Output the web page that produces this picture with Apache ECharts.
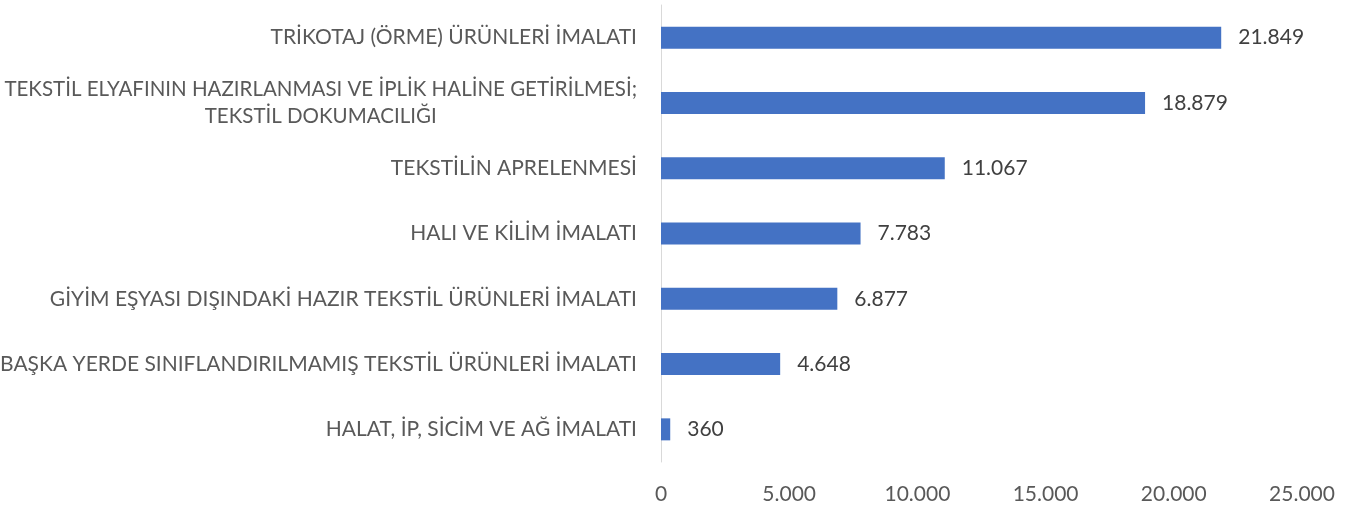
<!DOCTYPE html>
<html>
<head>
<meta charset="utf-8">
<script src="https://cdn.jsdelivr.net/npm/echarts@6/dist/echarts.min.js"></script>
<style>html,body{margin:0;padding:0;background:#fff}#c{width:1362px;height:506px}</style>
</head>
<body>
<div id="c"></div>
<script>
const categories = [
  "TRİKOTAJ (ÖRME) ÜRÜNLERİ İMALATI",
  "TEKSTİL ELYAFININ HAZIRLANMASI VE İPLİK HALİNE GETİRİLMESİ;\nTEKSTİL DOKUMACILIĞI",
  "TEKSTİLİN APRELENMESİ",
  "HALI VE KİLİM İMALATI",
  "GİYİM EŞYASI DIŞINDAKİ HAZIR TEKSTİL ÜRÜNLERİ İMALATI",
  "BAŞKA YERDE SINIFLANDIRILMAMIŞ TEKSTİL ÜRÜNLERİ İMALATI",
  "HALAT, İP, SİCİM VE AĞ İMALATI"
];
const values = [21849, 18879, 11067, 7783, 6877, 4648, 360];
const xTicks = { min: 0, max: 25000, interval: 5000 };

function fmt(v) {
  return String(Math.round(v)).replace(/\B(?=(\d{3})+(?!\d))/g, '.');
}
const FONT = 'Lato';
const FS = 21;
const chart = echarts.init(document.getElementById('c'));
chart.setOption({
  animation: false,
  grid: { left: 661, right: 60, top: 5, bottom: 44, containLabel: false, outerBoundsMode: 'none' },
  xAxis: {
    type: 'value',
    min: xTicks.min, max: xTicks.max, interval: xTicks.interval,
    axisLine: { show: false },
    axisTick: { show: false },
    splitLine: { show: false },
    axisLabel: {
      formatter: fmt, color: '#595959', fontFamily: FONT, fontSize: FS, margin: 22
    }
  },
  yAxis: {
    type: 'category',
    inverse: true,
    data: categories,
    axisLine: { show: true, lineStyle: { color: '#d9d9d9', width: 1 } },
    axisTick: { show: false },
    axisLabel: {
      color: '#595959', fontFamily: FONT, fontSize: FS, margin: 24,
      formatter: function (v) {
        const lines = v.split('\n');
        const key = lines.length > 1 ? 'b' : 'a';
        return lines.map(function (s) { return '{' + key + '|' + s + '}'; }).join('\n');
      },
      rich: {
        a: { align: 'center', color: '#595959', fontFamily: FONT, fontSize: FS, lineHeight: 27 },
        b: { align: 'center', color: '#595959', fontFamily: FONT, fontSize: 20.5, lineHeight: 27 }
      }
    }
  },
  series: [{
    type: 'bar',
    data: values,
    barWidth: 22,
    itemStyle: { color: '#4472C4' },
    label: {
      show: true, position: 'right', distance: 17,
      formatter: function (p) { return fmt(p.value); },
      color: '#404040', fontFamily: FONT, fontSize: FS
    }
  }]
});
</script>
</body>
</html>
